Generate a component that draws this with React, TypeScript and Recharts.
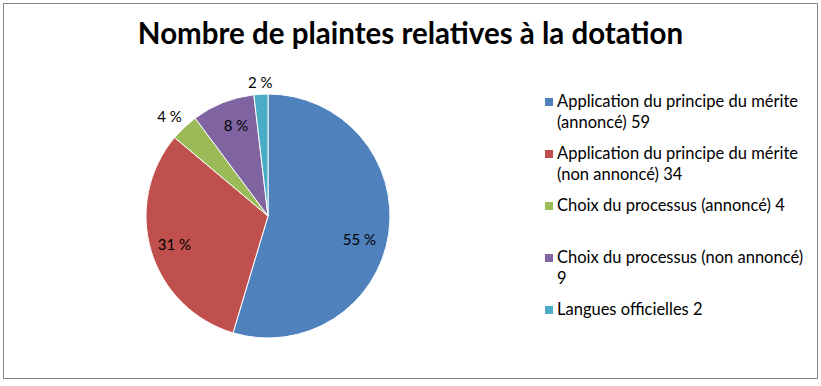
import { PieChart, Pie, Cell, Legend } from 'recharts';

const categories = [
  'Application du principe du mérite (annoncé) 59',
  'Application du principe du mérite (non annoncé) 34',
  'Choix du processus (annoncé) 4',
  'Choix du processus (non annoncé) 9',
  'Langues officielles 2',
];
const values = [59, 34, 4, 9, 2];

const COLORS = ['#4F81BD', '#C0504D', '#9BBB59', '#8064A2', '#4BACC6'];
// where each percent label sits: share of the radius, and a small angle nudge (deg)
const LABEL_RADIUS = [0.773, 0.8, 1.15, 0.79, 1.1];
const LABEL_NUDGE = [-5.8, 0, 1.3, -2.3, 0];

const data = categories.map((name, i) => ({ name, value: values[i] }));

const FONT = 'Lato, "Open Sans", sans-serif';
const RADIAN = Math.PI / 180;

function renderLabel(props: any) {
  const { cx, cy, midAngle, outerRadius, percent, index } = props;
  const r = outerRadius * LABEL_RADIUS[index];
  const a = (midAngle + LABEL_NUDGE[index]) * RADIAN;
  const x = cx + r * Math.cos(-a);
  const y = cy + r * Math.sin(-a);
  return (
    <text
      x={x}
      y={y}
      fill="#000"
      fontSize={15}
      fontFamily={FONT}
      textAnchor="middle"
      dominantBaseline="central"
    >
      {`${Math.round(percent * 100)} %`}
    </text>
  );
}

function LegendContent({ payload }: any) {
  return (
    <div style={{ fontFamily: FONT, fontSize: 16.5, color: '#000', width: 262 }}>
      {(payload || []).map((p: any, i: number) => (
        <div key={i} style={{ display: 'flex', alignItems: 'flex-start', height: 52 }}>
          <span
            style={{
              width: 8,
              height: 8,
              background: p.color,
              marginTop: 7,
              marginRight: 4,
              flex: 'none',
            }}
          />
          <span style={{ lineHeight: '21px', width: 248, display: 'block' }}>{p.value}</span>
        </div>
      ))}
    </div>
  );
}

export default function App() {
  return (
    <div
      style={{
        position: 'absolute',
        left: 0,
        top: 0,
        width: 821,
        height: 386,
        background: '#fff',
      }}
    >
      <div
        style={{
          position: 'absolute',
          left: 3,
          top: 3,
          width: 813,
          height: 374,
          border: '1px solid #868686',
        }}
      />
      <div
        style={{
          position: 'absolute',
          left: 0,
          top: 15,
          width: 821,
          textAlign: 'center',
          fontFamily: FONT,
          fontWeight: 700,
          fontSize: 29.5,
          color: '#000',
        }}
      >
        Nombre de plaintes relatives à la dotation
      </div>
      <div style={{ position: 'absolute', left: 0, top: 0 }}>
        <PieChart width={821} height={386} margin={{ top: 0, right: 0, bottom: 0, left: 0 }}>
          <Pie
            data={data}
            dataKey="value"
            nameKey="name"
            cx={268}
            cy={216}
            outerRadius={122}
            startAngle={90}
            endAngle={-270}
            stroke="#fff"
            strokeWidth={1}
            label={renderLabel}
            labelLine={false}
            isAnimationActive={false}
          >
            {data.map((_, i) => (
              <Cell key={i} fill={COLORS[i]} />
            ))}
          </Pie>
          <Legend
            layout="vertical"
            content={<LegendContent />}
            wrapperStyle={{ left: 545, top: 91, width: 262 }}
          />
        </PieChart>
      </div>
    </div>
  );
}
